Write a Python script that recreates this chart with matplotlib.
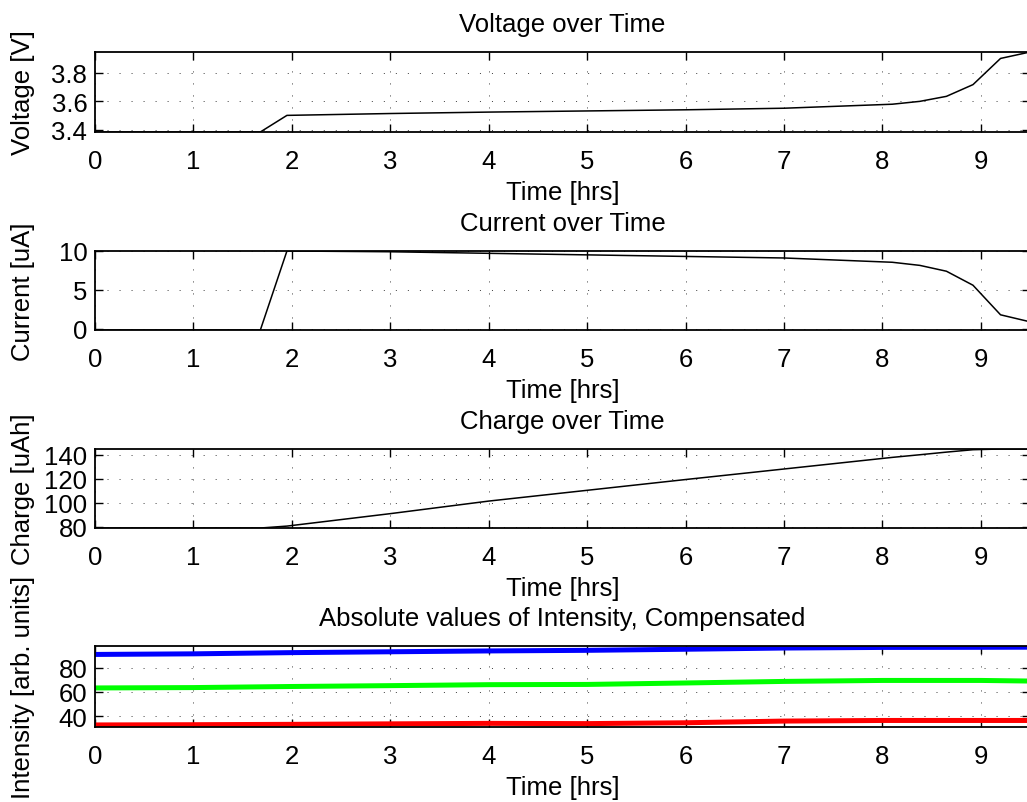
#!/usr/bin/env python3
"""Voltage / current / charge / intensity over time, MATLAB-style stacked panels."""

import matplotlib
matplotlib.use('Agg')

import matplotlib.pyplot as plt

plt.rcParams['font.family'] = ['Liberation Sans', 'DejaVu Sans']

FONT_SIZE = 18.5

# Electrical data
time_hrs = [0, 1.68, 1.95, 3, 4, 5, 6, 7, 8.1, 8.38, 8.65, 8.92, 9.2, 9.5]
voltage_v = [3.386, 3.386, 3.502, 3.515, 3.525, 3.533, 3.541, 3.552,
             3.58, 3.60, 3.635, 3.717, 3.90, 3.945]
current_ua = [-0.15, -0.15, 10.0, 9.9, 9.7, 9.5, 9.3, 9.1,
              8.55, 8.15, 7.4, 5.6, 1.8, 0.9]
charge_uah = [79, 79, 80.6, 91, 101.5, 110.5, 119.5, 128.3,
              138.0, 140.2, 142.4, 144.4, 145, 145]

# Intensity data
int_time = [0, 1, 2, 3, 4, 5, 6, 7, 8, 9, 9.5]
int_blue = [91.0, 91.5, 92.5, 93.2, 93.9, 94.4, 95.3, 96.3, 96.8, 96.9, 97.0]
int_green = [63.3, 63.6, 64.5, 65.2, 66.0, 66.2, 67.4, 68.7, 69.5, 69.5, 69.0]
int_red = [32.7, 32.9, 33.2, 33.6, 34.0, 33.8, 34.5, 35.9, 36.4, 36.4, 36.4]

x_ticks = list(range(10))

# Panel geometry in figure fractions: (bottom, top)
PANELS = [(0.8344, 0.9340), (0.5878, 0.6862), (0.3412, 0.4396), (0.0934, 0.1943)]
LEFT = 0.0925
RIGHT = 1.003


def style_axes(ax, title, ylabel, yticks, ylim):
    ax.set_xlim(0, 9.5)
    ax.set_ylim(*ylim)
    ax.set_xticks(x_ticks)
    ax.set_yticks(yticks)
    ax.set_title(title, fontsize=FONT_SIZE, pad=15)
    ax.set_xlabel('Time [hrs]', fontsize=FONT_SIZE, labelpad=5)
    ax.set_ylabel(ylabel, fontsize=FONT_SIZE)
    ax.yaxis.set_label_coords(-0.064, 0.5)
    ax.tick_params(direction='in', length=6, width=1.0, top=True, right=True,
                   labelsize=FONT_SIZE)
    ax.tick_params(axis='x', pad=12)
    ax.tick_params(axis='y', pad=5.5)
    ax.grid(True, color='black', linewidth=0.5, linestyle=(0, (1.5, 15.8)))
    for sp in ax.spines.values():
        sp.set_linewidth(1.3)


def main():
    fig = plt.figure(figsize=(10.27, 8.03), dpi=100)
    axes = []
    for bottom, top in PANELS:
        axes.append(fig.add_axes([LEFT, bottom, RIGHT - LEFT, top - bottom]))

    ax = axes[0]
    ax.plot(time_hrs, voltage_v, color='black', linewidth=1.1)
    style_axes(ax, 'Voltage over Time', 'Voltage [V]', [3.4, 3.6, 3.8],
               (min(voltage_v), max(voltage_v)))

    ax = axes[1]
    ax.plot(time_hrs, current_ua, color='black', linewidth=1.1)
    style_axes(ax, 'Current over Time', 'Current [uA]', [0, 5, 10],
               (min(current_ua), max(current_ua)))

    ax = axes[2]
    ax.plot(time_hrs, charge_uah, color='black', linewidth=1.1)
    style_axes(ax, 'Charge over Time', 'Charge [uAh]', [80, 100, 120, 140],
               (min(charge_uah), max(charge_uah)))

    ax = axes[3]
    ax.plot(int_time, int_red, color='#ff0000', linewidth=3.6)
    ax.plot(int_time, int_green, color='#00ff00', linewidth=3.6)
    ax.plot(int_time, int_blue, color='#0000ff', linewidth=3.6)
    style_axes(ax, 'Absolute values of Intensity, Compensated',
               'Intensity [arb. units]', [40, 60, 80], (31, 98))

    fig.savefig('out.png', dpi=100, facecolor='white')
    plt.close(fig)


if __name__ == '__main__':
    main()
